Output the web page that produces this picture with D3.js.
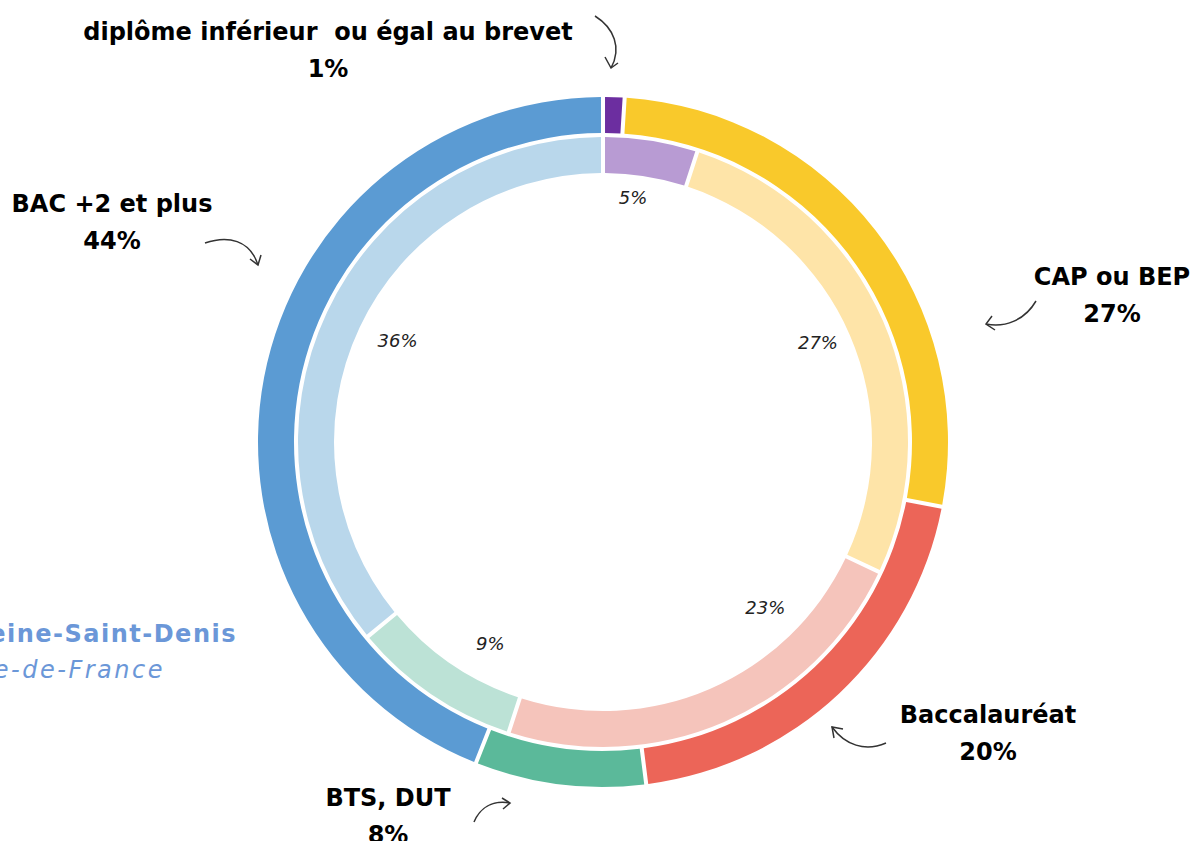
<!DOCTYPE html>
<html>
<head>
<meta charset="utf-8">
<script src="https://cdn.jsdelivr.net/npm/d3@7"></script>
<style>
  body { margin: 0; background: #fff; }
  svg { display: block; font-family: "DejaVu Sans", sans-serif; }
  text { white-space: pre; }
</style>
</head>
<body>
<script>
// categories and values (outer ring = Seine-Saint-Denis, inner ring = Île-de-France)
var categories = ["diplôme inférieur  ou égal au brevet", "CAP ou BEP", "Baccalauréat", "BTS, DUT", "BAC +2 et plus"];
var outerValues = [1, 27, 20, 8, 44];
var innerValues = [5, 27, 23, 9, 36];
var outerColors = ["#6c2ea0", "#f9c92b", "#ec6558", "#5bb99a", "#5b9bd3"];
var innerColors = ["#b89bd3", "#fee4a8", "#f5c4bb", "#bce2d6", "#b9d7eb"];
var seriesNames = ["Seine-Saint-Denis", "Île-de-France"];

var width = 1193, height = 841;
var cx = 603, cy = 442;

var svg = d3.select("body").append("svg")
    .attr("width", width)
    .attr("height", height);

var g = svg.append("g")
    .attr("transform", "translate(" + cx + "," + cy + ")");

var pie = d3.pie().sort(null).value(function(d) { return d; });

var outerArc = d3.arc().innerRadius(309).outerRadius(345).padAngle(0.0135).padRadius(300);
var innerArc = d3.arc().innerRadius(269).outerRadius(305).padAngle(0.0135).padRadius(300);

g.selectAll("path.outer")
    .data(pie(outerValues))
    .enter().append("path")
    .attr("class", "outer")
    .attr("d", outerArc)
    .style("fill", function(d, i) { return outerColors[i]; });

g.selectAll("path.inner")
    .data(pie(innerValues))
    .enter().append("path")
    .attr("class", "inner")
    .attr("d", innerArc)
    .style("fill", function(d, i) { return innerColors[i]; });

// inner percentages: slice mid-angle plus a small nudge (degrees), at a given radius
var innerNudge = [-2, -1.5, -21, -5, 1];
var innerLabelR = [246, 237, 232, 231, 229];
g.selectAll("text.inner-label")
    .data(pie(innerValues))
    .enter().append("text")
    .attr("class", "inner-label")
    .attr("transform", function(d, i) {
        var a = (d.startAngle + d.endAngle) / 2 + innerNudge[i] * Math.PI / 180;
        var r = innerLabelR[i];
        return "translate(" + (r * Math.sin(a)) + "," + (-r * Math.cos(a)) + ")";
    })
    .attr("text-anchor", "middle")
    .attr("dy", "0.35em")
    .style("font-size", "18px")
    .style("font-style", "italic")
    .style("fill", "#222")
    .text(function(d) { return d.data + "%"; });

// outer labels with hand-drawn arrows
var labelPos = [
    {x: 328, y: 40},
    {x: 1112, y: 285},
    {x: 988, y: 723},
    {x: 388, y: 806},
    {x: 112, y: 212}
];
var arrows = [
    "M595,16 C614,28 622,48 611,68",
    "M1036,301 C1025,320 1005,328 986,324",
    "M886,743 C865,752 845,745 832,727",
    "M474,822 C480,808 492,800 510,803",
    "M205,243 C228,235 250,240 258,265"
];
// arrow heads: [tip, wing1, wing2]
var heads = [
    [[611, 68], [605, 57], [618, 63]],
    [[986, 324], [992, 316], [995, 330]],
    [[832, 727], [834, 738], [843, 729]],
    [[510, 803], [502, 798], [503, 809]],
    [[258, 265], [250, 259], [261, 255]]
];

var labels = svg.append("g").attr("class", "labels");
categories.forEach(function(c, i) {
    var t = labels.append("text")
        .attr("x", labelPos[i].x)
        .attr("y", labelPos[i].y)
        .attr("text-anchor", "middle")
        .style("font-size", "24px")
        .style("font-weight", "700")
        .style("fill", "#000");
    t.append("tspan").attr("x", labelPos[i].x).text(c);
    t.append("tspan").attr("x", labelPos[i].x).attr("dy", 37).text(outerValues[i] + "%");

    labels.append("path")
        .attr("d", arrows[i])
        .style("fill", "none")
        .style("stroke", "#333")
        .style("stroke-width", 1.5);
    var h = heads[i];
    labels.append("path")
        .attr("d", "M" + h[1] + "L" + h[0] + "L" + h[2])
        .style("fill", "none")
        .style("stroke", "#333")
        .style("stroke-width", 1.5);
});

// legend (partly cut off at the left edge)
svg.append("text")
    .attr("x", 237)
    .attr("y", 642)
    .attr("text-anchor", "end")
    .style("font-size", "24px")
    .style("font-weight", "700")
    .style("letter-spacing", "1.5px")
    .style("fill", "#6b97d8")
    .text(seriesNames[0]);

svg.append("text")
    .attr("x", 165)
    .attr("y", 678)
    .attr("text-anchor", "end")
    .style("font-size", "24px")
    .style("font-style", "italic")
    .style("letter-spacing", "2.5px")
    .style("fill", "#6b97d8")
    .text(seriesNames[1]);
</script>
</body>
</html>
